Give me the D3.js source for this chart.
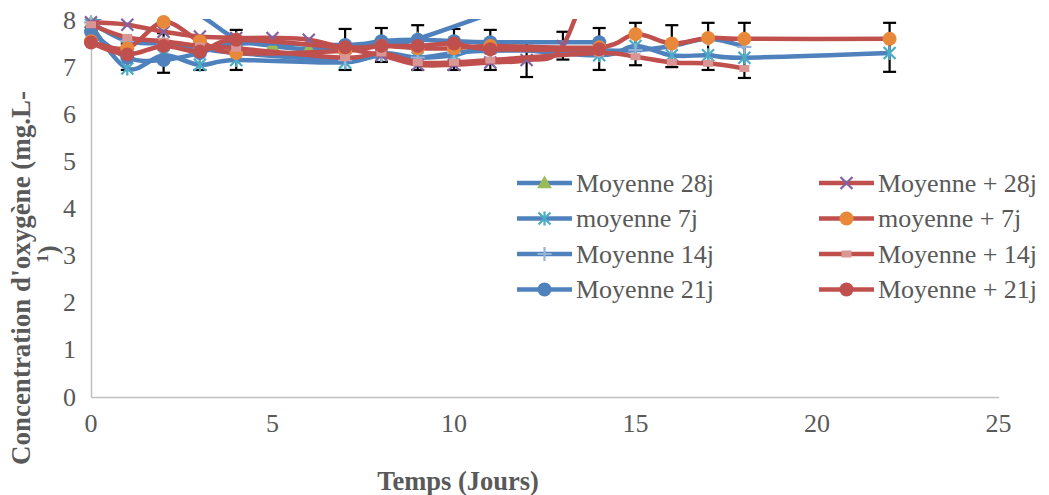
<!DOCTYPE html>
<html><head><meta charset="utf-8">
<script src="https://cdn.jsdelivr.net/npm/d3@7"></script>
<style>body{margin:0;background:#fff} svg{display:block}</style>
</head><body>
<svg id="chart" width="1049" height="495"></svg>
<script>
// ---------- DATA ----------
const yTicks = [0, 1, 2, 3, 4, 5, 6, 7, 8];
const xTicks = [0, 5, 10, 15, 20, 25];
const xTitle = "Temps (Jours)";
const yTitleLine1 = "Concentration d'oxygène (mg.L-";
const yTitleLine2Sup = "1";
const yTitleLine2 = ")";

const seriesNames = ["Moyenne 28j", "moyenne 7j", "Moyenne 14j", "Moyenne 21j",
                     "Moyenne + 28j", "moyenne + 7j", "Moyenne + 14j", "Moyenne + 21j"];

const daysM28 = [0, 1, 2, 3, 4, 5, 6, 7, 8, 9, 13];
const valsM28 = [7.95, 8.3, 8.4, 8.1, 7.6, 7.45, 7.38, 7.42, 7.5, 7.6, 8.7];

const daysM7 = [0, 1, 2, 3, 4, 7, 8, 9, 10, 11, 14, 15, 16, 17, 18, 22];
const valsM7 = [7.9, 6.97, 7.25, 7.05, 7.15, 7.1, 7.3, 7.2, 7.25, 7.4, 7.25, 7.45, 7.25, 7.25, 7.2, 7.3];

const daysM14 = [0, 1, 2, 3, 4, 7, 8, 9, 10, 11, 14, 15, 16, 17, 18];
const valsM14 = [7.95, 7.55, 7.5, 7.4, 7.3, 7.15, 7.25, 7.2, 7.3, 7.35, 7.35, 7.36, 7.45, 7.6, 7.43];

const daysM21 = [0, 1, 2, 3, 4, 7, 8, 9, 10, 11, 14];
const valsM21 = [7.75, 7.2, 7.15, 7.3, 7.5, 7.47, 7.55, 7.58, 7.55, 7.53, 7.53];

const daysP28 = [0, 1, 2, 3, 4, 5, 6, 7, 8, 9, 10, 11, 12, 13, 14];
const valsP28 = [7.95, 7.9, 7.75, 7.65, 7.62, 7.62, 7.58, 7.4, 7.25, 7.05, 7.05, 7.1, 7.15, 7.45, 9.6];

const daysP7 = [0, 1, 2, 3, 4, 7, 8, 9, 10, 11, 14, 15, 16, 17, 18, 22];
const valsP7 = [7.55, 7.4, 7.96, 7.55, 7.3, 7.35, 7.45, 7.4, 7.4, 7.45, 7.42, 7.7, 7.5, 7.62, 7.6, 7.6];

const daysP14 = [0, 1, 2, 3, 4, 7, 8, 9, 10, 11, 14, 15, 16, 17, 18];
const valsP14 = [7.9, 7.63, 7.55, 7.45, 7.4, 7.2, 7.3, 7.1, 7.1, 7.15, 7.3, 7.22, 7.1, 7.08, 6.97];

const daysP21 = [0, 1, 2, 3, 4, 7, 8, 9, 10, 11, 14];
const valsP21 = [7.52, 7.27, 7.45, 7.33, 7.58, 7.42, 7.45, 7.45, 7.5, 7.38, 7.38];

const errDays = [1, 2, 3, 4, 7, 8, 9, 10, 11, 12, 13, 14, 15, 16, 17, 18, 22];
const errHigh = [7.5, 7.72, 7.62, 7.79, 7.81, 7.83, 7.89, 7.81, 7.79, 7.51, 7.75, 7.83, 7.94, 7.89, 7.94, 7.94, 7.94];
const errLow  = [6.94, 6.88, 6.94, 6.94, 6.94, 7.11, 6.94, 6.94, 6.94, 6.79, 7.16, 6.94, 7.04, 7.0, 6.94, 6.77, 6.9];

// ---------- STYLE ----------
const BLUE = "#4F81BD", RED = "#C0504D";
const seriesStyle = [
  {line: BLUE, marker: "triangle", mcolor: "#9BBB59"},
  {line: BLUE, marker: "asterisk", mcolor: "#4BACC6"},
  {line: BLUE, marker: "plus", mcolor: "#95B3D7"},
  {line: BLUE, marker: "circle", mcolor: "#4F81BD"},
  {line: RED, marker: "x", mcolor: "#8064A2"},
  {line: RED, marker: "circle", mcolor: "#E8883A"},
  {line: RED, marker: "dash", mcolor: "#D99694"},
  {line: RED, marker: "circle", mcolor: "#C0504D"}
];
const seriesDays = [daysM28, daysM7, daysM14, daysM21, daysP28, daysP7, daysP14, daysP21];
const seriesVals = [valsM28, valsM7, valsM14, valsM21, valsP28, valsP7, valsP14, valsP21];

const series = seriesNames.map((name, i) => ({
  name, ...seriesStyle[i],
  pts: seriesDays[i].map((d, j) => ({x: d, y: seriesVals[i][j]}))
}));

const TXT = "#595959";
const FS = 26;

const svg = d3.select("#chart");

// pick a serif family that really resolves (serif "Moyenne 28j" at 26px is ~138px, sans ~149px)
const candidates = ["'Liberation Serif'", "'Times New Roman'", "Tinos", "serif"];
let FONT = candidates[0];
for (const c of candidates) {
  const t = svg.append("text").attr("x", -500).attr("y", -500)
    .style("font-family", c).style("font-size", FS + "px").text(seriesNames[0]);
  const w = t.node().getComputedTextLength();
  t.remove();
  if (w > 0 && w < 143) { FONT = c; break; }
}

function addText(parent, str, opts) {
  const t = parent.append("text")
    .attr("x", opts.x).attr("y", opts.y)
    .attr("text-anchor", opts.anchor || "start")
    .style("font-family", FONT)
    .style("font-size", (opts.size || FS) + "px")
    .style("font-weight", opts.weight || "normal")
    .attr("fill", TXT)
    .text(str);
  if (opts.transform) t.attr("transform", opts.transform);
  return t;
}

const pLeft = 91, pRight = 998.5, pTop = 20, pBottom = 397;
const x = d3.scaleLinear().domain([0, 25]).range([pLeft, pRight]);
const y = d3.scaleLinear().domain([0, 8]).range([pBottom, pTop]);

svg.append("defs").append("clipPath").attr("id", "plotclip")
  .append("rect").attr("x", pLeft - 10).attr("y", pTop - 1)
  .attr("width", pRight - pLeft + 20).attr("height", pBottom - pTop + 11);

// axes (domain lines from d3 axes, labels as plain text with pixel offsets)
const gy = svg.append("g").attr("transform", `translate(${pLeft},0)`)
  .call(d3.axisLeft(y).tickValues(yTicks).tickSize(0).tickFormat(""));
const gx = svg.append("g").attr("transform", `translate(0,${pBottom})`)
  .call(d3.axisBottom(x).tickValues(xTicks).tickSize(0).tickFormat(""));
[gx, gy].forEach(g => {
  g.select(".domain").attr("stroke", "#BFBFBF").attr("stroke-width", 1.5);
  g.selectAll(".tick").remove();
});

yTicks.forEach(v => addText(svg, v, {x: pLeft - 15, y: y(v) + 8.5, anchor: "end"}));
xTicks.forEach(v => addText(svg, v, {x: x(v), y: pBottom + 35, anchor: "middle"}));

// titles
addText(svg, xTitle, {x: 458, y: 490, anchor: "middle", size: 26.5, weight: "bold"});
addText(svg, yTitleLine1, {x: 0, y: 0, anchor: "middle", size: 27, weight: "bold",
  transform: "translate(30,278) rotate(-90)"});
const l2 = addText(svg, "", {x: 0, y: 0, anchor: "middle", size: 27, weight: "bold",
  transform: "translate(57,254) rotate(-90)"});
l2.append("tspan").style("font-size", "17px").attr("dy", -9).text(yTitleLine2Sup);
l2.append("tspan").attr("dy", 9).text(yTitleLine2);

// marker drawing
function drawMarker(g, type, color, cx, cy) {
  if (type === "circle") {
    g.append("circle").attr("cx", cx).attr("cy", cy).attr("r", 7).attr("fill", color);
  } else if (type === "triangle") {
    g.append("path").attr("d", d3.symbol(d3.symbolTriangle, 95)())
      .attr("transform", `translate(${cx},${cy + 1})`).attr("fill", color);
  } else if (type === "x") {
    const s = 6;
    g.append("path").attr("d", `M${cx - s},${cy - s}L${cx + s},${cy + s}M${cx - s},${cy + s}L${cx + s},${cy - s}`)
      .attr("stroke", color).attr("stroke-width", 2.2).attr("fill", "none");
  } else if (type === "asterisk") {
    const s = 6;
    g.append("path").attr("d", `M${cx - s},${cy - s}L${cx + s},${cy + s}M${cx - s},${cy + s}L${cx + s},${cy - s}M${cx},${cy - s - 1}L${cx},${cy + s + 1}`)
      .attr("stroke", color).attr("stroke-width", 2.2).attr("fill", "none");
  } else if (type === "plus") {
    const s = 7;
    g.append("path").attr("d", `M${cx - s},${cy}L${cx + s},${cy}M${cx},${cy - s}L${cx},${cy + s}`)
      .attr("stroke", color).attr("stroke-width", 2.2).attr("fill", "none");
  } else if (type === "dash") {
    g.append("rect").attr("x", cx - 5).attr("y", cy - 3.5).attr("width", 10).attr("height", 7).attr("fill", color);
  }
}

// error bars (drawn first, under series)
const eg = svg.append("g").attr("stroke", "#000").attr("stroke-width", 2.2);
errDays.forEach((d, i) => {
  const cx = x(d), y1 = y(errHigh[i]), y2 = y(errLow[i]);
  eg.append("line").attr("x1", cx).attr("x2", cx).attr("y1", y1).attr("y2", y2);
  eg.append("line").attr("x1", cx - 6.5).attr("x2", cx + 6.5).attr("y1", y1).attr("y2", y1);
  eg.append("line").attr("x1", cx - 6.5).attr("x2", cx + 6.5).attr("y1", y2).attr("y2", y2);
});

// series
const lineGen = d3.line().x(d => x(d.x)).y(d => y(d.y)).curve(d3.curveCardinal.tension(0));
series.forEach(s => {
  const g = svg.append("g");
  g.append("path").attr("d", lineGen(s.pts)).attr("fill", "none")
    .attr("stroke", s.line).attr("stroke-width", 4.5).attr("stroke-linejoin", "round")
    .attr("clip-path", "url(#plotclip)");
  s.pts.filter(p => p.y <= 8.0).forEach(p => drawMarker(g, s.marker, s.mcolor, x(p.x), y(p.y)));
});

// legend
const leg = svg.append("g");
series.forEach((s, i) => {
  const col = i < 4 ? 0 : 1, row = i % 4;
  const lx = col === 0 ? 517 : 819;
  const ly = 183 + row * 35.5;
  leg.append("line").attr("x1", lx).attr("x2", lx + 55).attr("y1", ly).attr("y2", ly)
    .attr("stroke", s.line).attr("stroke-width", 4.5);
  drawMarker(leg, s.marker, s.mcolor, lx + 27.5, ly);
  addText(leg, s.name, {x: lx + 59, y: ly + 8.5});
});
</script>
</body></html>
